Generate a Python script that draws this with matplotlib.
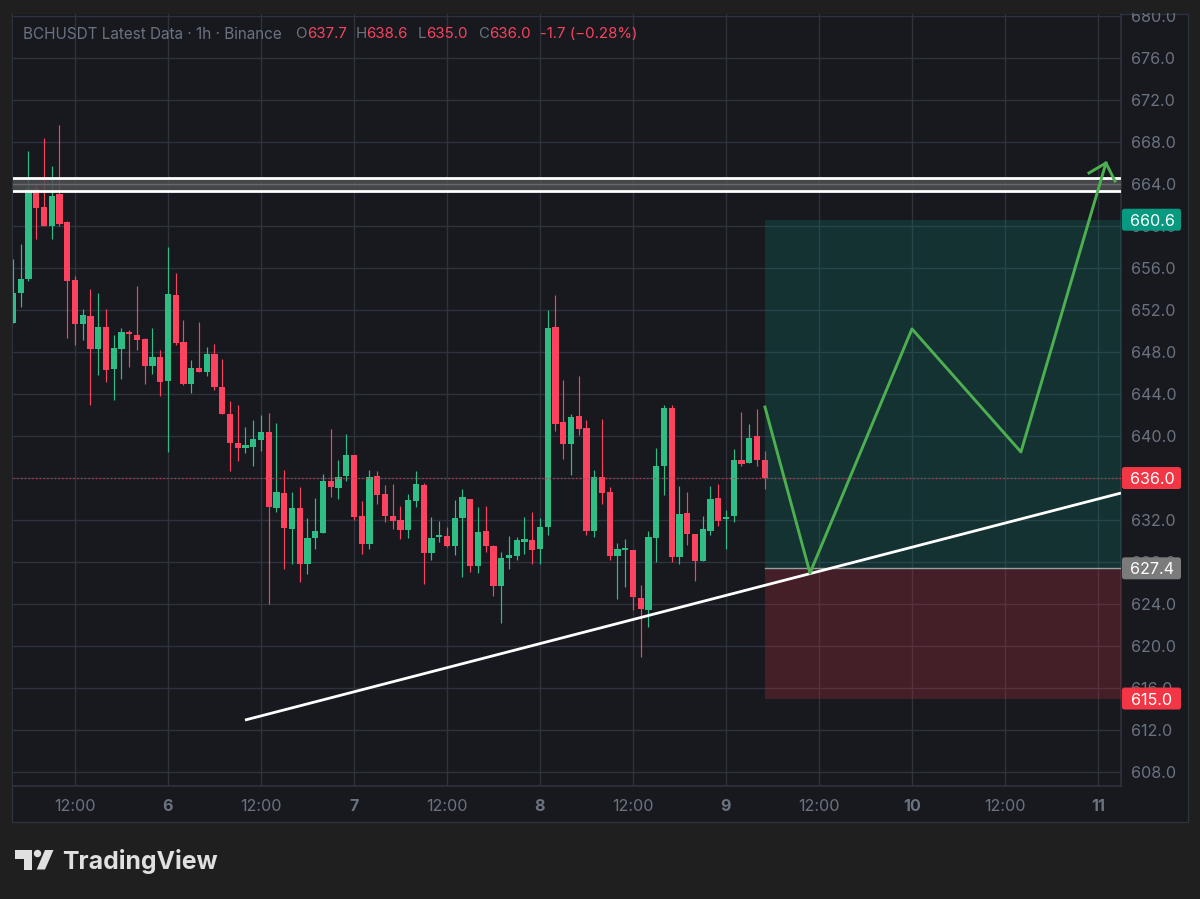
import matplotlib
matplotlib.use('Agg')
import matplotlib.pyplot as plt
from matplotlib.patches import FancyBboxPatch, Polygon, Circle, Rectangle
from matplotlib.transforms import IdentityTransform

plt.rcParams['font.family'] = ['Inter', 'DejaVu Sans']

# hourly candles, hours counted from day 6 00:00
hours = list(range(-20, 78))
opens = [650.8, 653.65, 654.95, 663.5, 661.8, 660.0, 663.05, 660.35, 654.85, 650.65,
         651.4, 648.3, 650.4, 646.4, 648.3, 649.95, 649.6, 649.2, 646.65, 647.5,
         645.25, 653.4, 649.0, 644.95, 646.5, 646.1, 647.8, 644.7, 642.05, 639.35,
         638.85, 638.95, 639.65, 640.4, 633.15, 634.6, 631.1, 633.1, 627.8, 630.25,
         630.8, 635.7, 635.05, 636.15, 638.2, 632.4, 629.7, 636.2, 634.5, 632.4,
         632.0, 631.05, 633.8, 635.3, 628.85, 630.4, 630.5, 629.5, 632.15, 634.0,
         627.6, 631.0, 629.5, 625.7, 628.4, 628.55, 629.95, 630.1, 629.2, 631.35,
         650.4, 641.3, 639.25, 641.9, 640.8, 630.95, 636.05, 634.65, 628.55, 629.15,
         629.1, 624.55, 623.45, 630.3, 637.15, 642.65, 628.45, 632.7, 630.7, 628.05,
         630.95, 634.1, 632.05, 632.35, 637.7, 637.45, 640.0, 637.7]
highs = [656.9, 658.25, 667.15, 664.0, 668.4, 665.7, 669.65, 660.5, 655.25, 652.1,
         654.0, 653.6, 652.1, 649.6, 650.25, 650.1, 654.3, 649.3, 650.25, 648.2,
         658.0, 655.5, 651.05, 647.2, 650.85, 648.5, 648.8, 647.3, 643.35, 643.0,
         640.9, 641.5, 642.0, 642.2, 641.25, 636.8, 634.65, 635.1, 632.2, 634.1,
         636.35, 640.65, 637.7, 640.2, 638.2, 633.85, 636.8, 636.7, 635.3, 635.4,
         633.35, 634.45, 636.65, 635.5, 632.25, 631.9, 631.35, 633.9, 635.0, 634.0,
         633.2, 633.35, 629.6, 629.0, 630.5, 630.35, 632.3, 632.75, 632.2, 652.0,
         653.45, 645.35, 642.05, 645.7, 641.5, 636.8, 641.6, 635.1, 629.8, 630.2,
         629.1, 625.8, 631.0, 638.9, 643.0, 643.0, 635.2, 634.65, 630.7, 632.4,
         635.2, 635.4, 633.0, 638.75, 642.3, 641.1, 642.55, 638.6]
lows = [650.8, 652.3, 654.8, 658.8, 660.0, 658.75, 660.0, 649.3, 648.7, 649.1,
        642.95, 645.8, 645.1, 643.4, 645.4, 646.6, 648.2, 645.0, 645.9, 643.8,
        638.5, 648.65, 644.9, 644.05, 646.05, 645.7, 644.4, 642.05, 636.7, 637.6,
        638.4, 637.15, 638.6, 624.05, 632.75, 627.35, 627.8, 626.1, 626.9, 629.25,
        630.8, 634.2, 634.0, 635.7, 632.0, 628.8, 629.25, 633.5, 631.8, 631.15,
        630.2, 630.3, 633.2, 625.9, 628.2, 629.9, 629.4, 628.65, 626.6, 627.05,
        627.0, 629.0, 624.8, 622.2, 627.35, 628.2, 628.75, 627.85, 627.8, 630.55,
        640.5, 637.8, 636.3, 640.1, 630.55, 630.4, 633.5, 628.2, 624.5, 625.65,
        623.45, 619.0, 621.85, 628.0, 634.4, 628.0, 627.85, 629.6, 626.2, 628.05,
        630.55, 631.45, 629.25, 631.8, 637.15, 637.45, 637.15, 634.95]
closes = [653.6, 655.0, 663.5, 661.75, 660.0, 662.9, 660.15, 654.75, 650.65, 651.5,
          648.3, 650.4, 646.25, 648.4, 649.95, 649.7, 649.15, 646.65, 647.5, 645.15,
          653.5, 648.9, 644.95, 646.5, 646.05, 647.8, 644.65, 642.05, 639.3, 638.85,
          639.1, 639.7, 640.4, 633.25, 634.65, 631.25, 633.1, 627.8, 630.3, 631.0,
          635.7, 635.15, 636.05, 638.2, 632.3, 629.7, 636.05, 634.4, 632.35, 631.9,
          631.05, 633.9, 635.45, 628.9, 630.3, 630.55, 629.5, 632.2, 634.15, 627.6,
          630.9, 629.5, 625.7, 628.4, 628.65, 630.1, 630.2, 629.15, 631.3, 650.3,
          641.15, 639.25, 641.85, 640.65, 630.95, 636.05, 634.55, 628.55, 629.25, 629.3,
          624.65, 623.5, 630.4, 637.15, 642.65, 628.45, 632.55, 630.65, 628.05, 631.1,
          634.0, 631.95, 632.3, 637.7, 637.35, 639.85, 637.7, 636.0]

price_ticks = list(range(608, 684, 4))
time_ticks = list(range(-12, 132, 12))
time_labels = ['12:00', '6', '12:00', '7', '12:00', '8', '12:00', '9', '12:00', '10', '12:00', '11']

# drawings on the chart
path_hours = [77.03, 82.84, 96.0, 110.06, 121.03]
path_prices = [642.76, 626.95, 650.2, 638.48, 666.0]
head_hours = [118.84, 121.03, 122.19]
head_prices = [665.05, 666.0, 664.29]
trend_hours = [9.94, 122.97]
trend_prices = [612.95, 634.57]
zone_top = 664.57
zone_bottom = 663.33
target_price = 660.6
entry_price = 627.4
stop_price = 615.0
last_price = 636.0
box_start = 77.0
xmin, xmax = -20.06, 122.97
ymin, ymax = 606.67, 680.19

BG = '#1f1f1f'
PANEL = '#17191f'
GRID = '#2e323d'
LABEL = '#6b7280'
UP = '#2dbd85'
DOWN = '#fb4360'
W, H = 1200, 899


def pane_rect(left, top, right, bottom):
    return [left / W, 1 - bottom / H, (right - left) / W, (bottom - top) / H]


fig = plt.figure(figsize=(12, 8.99), dpi=100, facecolor=BG)

# frame behind everything (price and time scales)
frame = fig.add_axes(pane_rect(12, 14, 1188, 822), facecolor=PANEL, zorder=0)
frame.set_xticks([])
frame.set_yticks([])
for s in frame.spines.values():
    s.set_color(GRID)
    s.set_linewidth(1)

ax = fig.add_axes(pane_rect(12.5, 14, 1121, 786), facecolor=PANEL, zorder=1)
ax.set_xlim(xmin, xmax)
ax.set_ylim(ymin, ymax)
for s in ['top', 'left']:
    ax.spines[s].set_visible(False)
for s in ['right', 'bottom']:
    ax.spines[s].set_color(GRID)
    ax.spines[s].set_linewidth(1.2)

ax.yaxis.tick_right()
ax.set_yticks(price_ticks)
ax.set_yticklabels([f'{p:.1f}' for p in price_ticks], va='center_baseline')
ax.set_xticks(time_ticks)
ax.set_xticklabels(time_labels)
ax.tick_params(axis='y', length=0, pad=7, labelsize=11.6, labelcolor=LABEL)
ax.tick_params(axis='x', length=0, pad=9.5, labelsize=11.6, labelcolor=LABEL)
for lab, txt in zip(ax.get_xticklabels(), time_labels):
    if txt != '12:00':
        lab.set_fontweight('bold')
ax.grid(True, color=GRID, linewidth=1.0, zorder=0)
ax.set_axisbelow(True)

# candles
colors = [UP if c >= o else DOWN for o, c in zip(opens, closes)]
ax.vlines(hours, lows, highs, colors=colors, linewidth=0.85, zorder=2)
bottoms = [min(o, c) for o, c in zip(opens, closes)]
heights = [abs(c - o) for o, c in zip(opens, closes)]
ax.bar(hours, heights, bottom=bottoms, width=0.8, color=colors, linewidth=0, zorder=3)

# support zone sits over the candles
ax.axhspan(zone_bottom, zone_top, color='#4e4f52', alpha=0.85, lw=0, zorder=3.5)
ax.axhline(664, color='#68696c', lw=1.0, zorder=3.6)
ax.axhline(zone_top, color='white', lw=2.0, zorder=4)
ax.axhline(zone_bottom, color='white', lw=2.0, zorder=4)

# long position box
ax.add_patch(Rectangle((box_start, entry_price), xmax - box_start, target_price - entry_price,
                       facecolor='#089981', alpha=0.2, lw=0, zorder=4))
ax.add_patch(Rectangle((box_start, stop_price), xmax - box_start, entry_price - stop_price,
                       facecolor='#f23645', alpha=0.21, lw=0, zorder=4))
ax.plot([box_start, xmax], [entry_price, entry_price], color='#9aa0a0', lw=1, zorder=4.5)

# last price line
ax.plot([xmin, xmax], [last_price, last_price], color='#c8394f', lw=0.9,
        ls=(0, (1, 2)), zorder=4.6)

ax.plot(trend_hours, trend_prices, color='white', lw=2.0, zorder=5, solid_capstyle='butt')
ax.plot(path_hours, path_prices, color='#4caf50', lw=2.1, zorder=5)
ax.plot(head_hours, head_prices, color='#4caf50', lw=2.1, zorder=5)

# price tags on the scale
tags = [(target_price, '#089981', '660.6'), (last_price, '#f23645', '636.0'),
        (entry_price, '#7b7b7b', '627.4'), (stop_price, '#f23645', '615.0')]
fig.canvas.draw()
for price, col, txt in tags:
    yd = ax.transData.transform((0, price))[1]
    fig.add_artist(FancyBboxPatch((1122, yd - 11), 59, 22, boxstyle='round,pad=0,rounding_size=2.5',
                                  transform=IdentityTransform(), facecolor=col, edgecolor='none', zorder=5))
    fig.text(1152 / W, yd / H, txt, color='white', fontsize=11.6, ha='center', va='center_baseline', zorder=6)

# clip the top scale label at the pane edge
fig.add_artist(Rectangle((0, 1 - 13 / H), 1, 13 / H, transform=fig.transFigure, facecolor=BG,
                         edgecolor='none', zorder=5))

# header
header = [(23, 'BCHUSDT Latest Data · 1h · Binance', LABEL, 11.0), (295.5, 'O', LABEL, 10.8), (307, '637.7', DOWN, 10.8),
          (355.6, 'H', LABEL, 10.8), (366.6, '638.6', DOWN, 10.8), (418, 'L', LABEL, 10.8), (426, '635.0', DOWN, 10.8),
          (477.7, 'C', LABEL, 10.8), (489, '636.0', DOWN, 10.8), (540, '-1.7 (−0.28%)', DOWN, 10.8)]
for x, txt, col, size in header:
    fig.text(x / W, 1 - 33 / H, txt, color=col, fontsize=size, ha='left', va='center_baseline', zorder=6)

# TradingView logo
LOGO = '#e0e0e0'
def px(points):
    return [(x / W, 1 - y / H) for x, y in points]

fig.add_artist(Polygon(px([(15, 850), (31.7, 850), (31.7, 869.5), (24, 869.5), (24, 858.5), (15, 858.5)]),
                       transform=fig.transFigure, facecolor=LOGO, edgecolor='none'))
fig.add_artist(Polygon(px([(45, 850), (53.5, 850), (45, 869.5), (36.7, 869.5)]),
                       transform=fig.transFigure, facecolor=LOGO, edgecolor='none'))
fig.add_artist(Circle((37.5, H - 853.5), 3.7, transform=IdentityTransform(), facecolor=LOGO, edgecolor='none'))
fig.text(62.5 / W, 1 - 869.5 / H, 'TradingView', color=LOGO, fontsize=17.9, fontweight='bold', ha='left', va='baseline')

fig.savefig('out.png', dpi=100, facecolor=BG)
